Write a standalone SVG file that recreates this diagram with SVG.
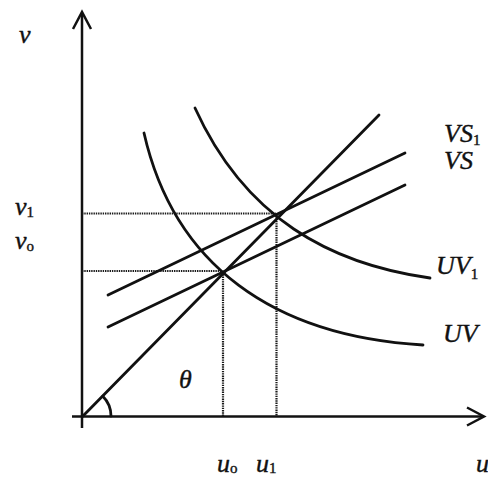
<svg xmlns="http://www.w3.org/2000/svg" width="488" height="478" viewBox="0 0 488 478">
<style>
.ln{fill:none;stroke:#111;stroke-width:2.8;stroke-linecap:round}
.ax{fill:none;stroke:#111;stroke-width:2.5}
.dt{fill:none;stroke:#1a1a1a;stroke-width:2.2;stroke-dasharray:1.4 0.9}
.lb{font-family:"Liberation Serif","Times New Roman",serif;font-style:italic;font-size:26px;fill:#111;stroke:#111;stroke-width:0.4}
.sb{font-family:"Liberation Serif","Times New Roman",serif;font-style:normal;font-size:15px;fill:#111}
</style>
<rect width="488" height="478" fill="#fff"/>
<g id="axes">
<line class="ax" x1="82" y1="428" x2="82" y2="13"/>
<polyline class="ax" points="73,29 82,12 91,29"/>
<line class="ax" x1="72" y1="416.5" x2="483" y2="416.5"/>
<polyline class="ax" points="467,407.5 484,416.5 467,425.5"/>
</g>
<g id="guides">
<line class="dt" x1="82" y1="213.5" x2="276" y2="213.5"/>
<line class="dt" x1="82" y1="271" x2="222" y2="271"/>
<line class="dt" x1="223" y1="272" x2="223" y2="416"/>
<line class="dt" x1="276.5" y1="214" x2="276.5" y2="416"/>
</g>
<g id="ray">
<line class="ln" x1="83" y1="416" x2="379" y2="115"/>
<path class="ln" d="M111,416 A28,28 0 0 0 102.8,396.2" stroke-width="2.3"/>
</g>
<g id="VS1"><line class="ln" x1="108" y1="295" x2="405" y2="153"/></g>
<g id="VS"><line class="ln" x1="108" y1="327" x2="405" y2="185"/></g>
<g id="UV"><path class="ln" d="M144,133 C174,265 273,336 423,345"/></g>
<g id="UV1"><path class="ln" d="M195,108 C245,218 330,264 430,278"/></g>
<g id="labels">
<text class="lb" x="19" y="43">v</text>
<text class="lb" x="15" y="215">v<tspan class="sb" dy="2">1</tspan></text>
<text class="lb" x="15" y="249">v<tspan class="sb" dy="2">o</tspan></text>
<text class="lb" x="444" y="142">VS<tspan class="sb" dy="3">1</tspan></text>
<text class="lb" x="444" y="169">VS</text>
<text class="lb" x="436" y="274">UV<tspan class="sb" dy="5">1</tspan></text>
<text class="lb" x="443" y="342">UV</text>
<text class="lb" x="179" y="388">θ</text>
<text class="lb" x="217" y="472">u<tspan class="sb" dy="1">o</tspan></text>
<text class="lb" x="256" y="472">u<tspan class="sb" dy="1">1</tspan></text>
<text class="lb" x="476" y="472">u</text>
</g>
</svg>
